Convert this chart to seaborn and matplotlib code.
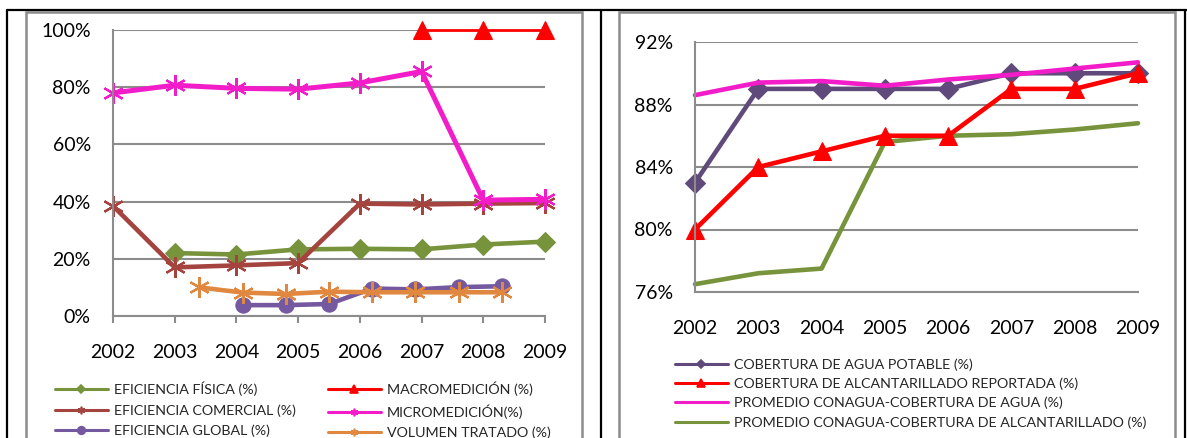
import matplotlib
matplotlib.use("Agg")
import matplotlib.pyplot as plt
from matplotlib.lines import Line2D
from matplotlib.patches import Rectangle
from matplotlib.ticker import PercentFormatter
import numpy as np
import pandas as pd
import seaborn as sns

# ---- data ----
years = ["2002", "2003", "2004", "2005", "2006", "2007", "2008", "2009"]

# left chart, primary category axis (one slot per year)
eficiencia_fisica = [np.nan, 22.0, 21.5, 23.3, 23.5, 23.3, 25.0, 26.0]
eficiencia_comercial = [38.5, 17.0, 17.7, 18.5, 39.3, 39.0, 39.3, 39.5]
macromedicion = [np.nan, np.nan, np.nan, np.nan, np.nan, 100.0, 100.0, 100.0]
micromedicion = [78.0, 80.7, 79.6, 79.3, 81.5, 85.5, 40.5, 40.8]

# left chart, secondary category axis (10 slots)
sec_slots = 10
global_slots = [3, 4, 5, 6, 7, 8, 9]
eficiencia_global = [3.8, 3.8, 4.2, 9.6, 9.3, 10.1, 10.4]
volumen_slots = [2, 3, 4, 5, 6, 7, 8, 9]
volumen_tratado = [10.0, 8.2, 7.7, 8.5, 8.3, 8.3, 8.3, 8.3]

# right chart
cob_agua = [83.0, 89.0, 89.0, 89.0, 89.0, 90.0, 90.0, 90.0]
cob_alcantarillado = [80.0, 84.0, 85.0, 86.0, 86.0, 89.0, 89.0, 90.0]
prom_agua = [88.6, 89.4, 89.5, 89.2, 89.6, 89.9, 90.3, 90.7]
prom_alcantarillado = [76.5, 77.2, 77.5, 85.6, 86.0, 86.1, 86.4, 86.8]

left_labels = ["EFICIENCIA FÍSICA (%)", "EFICIENCIA COMERCIAL (%)", "EFICIENCIA GLOBAL (%)",
               "MACROMEDICIÓN (%)", "MICROMEDICIÓN(%)", "VOLUMEN TRATADO (%)"]
right_labels = ["COBERTURA DE AGUA POTABLE (%)", "COBERTURA DE ALCANTARILLADO REPORTADA (%)",
                "PROMEDIO CONAGUA-COBERTURA DE AGUA (%)", "PROMEDIO CONAGUA-COBERTURA DE ALCANTARILLADO (%)"]

GREEN = "#77933C"
BROWN = "#A5433E"
PURPLE_L = "#7459A0"
RED = "#FF0000"
PINK = "#F21CC8"
ORANGE = "#E0883F"
PURPLE_R = "#604A7B"
GRID = "#8C8C8C"
STAR = (6, 2, 0)

W, H = 1187, 438
sns.set_style("white")
plt.rcParams["font.family"] = ["Lato", "DejaVu Sans"]


def box(x0, y0, x1, y1):
    return [x0 / W, 1 - y1 / H, (x1 - x0) / W, (y1 - y0) / H]


def style_axes(ax):
    for s in ["top", "right"]:
        ax.spines[s].set_visible(False)
    for s in ["left", "bottom"]:
        ax.spines[s].set_color(GRID)
        ax.spines[s].set_linewidth(1.5)
    ax.grid(axis="y", color=GRID, linewidth=1.5)
    ax.grid(axis="x", visible=False)
    ax.set_axisbelow(True)
    ax.tick_params(axis="both", direction="out", length=5, width=1.5, color=GRID,
                   labelsize=14, labelcolor="black")
    ax.tick_params(axis="x", pad=15)
    ax.tick_params(axis="y", pad=11)
    ax.set_xlabel("")
    ax.set_ylabel("")


fig = plt.figure(figsize=(W / 100, H / 100), dpi=100)

# ---- left chart ----
pos = list(range(len(years)))
df_left = pd.DataFrame({"pos": pos, "fisica": eficiencia_fisica, "comercial": eficiencia_comercial,
                        "macro": macromedicion, "micro": micromedicion})
ax = fig.add_axes(box(113, 30, 545, 316))
sns.lineplot(data=df_left, x="pos", y="fisica", ax=ax, color=GREEN, lw=3.3,
             marker="D", markersize=10, markeredgecolor=GREEN)
sns.lineplot(data=df_left, x="pos", y="comercial", ax=ax, color=BROWN, lw=3.3,
             marker=STAR, markersize=15, markeredgewidth=1.6, markeredgecolor=BROWN)
sns.lineplot(data=df_left, x="pos", y="macro", ax=ax, color=RED, lw=2,
             marker="^", markersize=13, markeredgecolor=RED)
sns.lineplot(data=df_left, x="pos", y="micro", ax=ax, color=PINK, lw=3.6,
             marker=STAR, markersize=15, markeredgewidth=1.6, markeredgecolor=PINK)
ax.set_xlim(0, len(years) - 1)
ax.set_ylim(0, 100)
ax.set_xticks(pos)
ax.set_xticklabels(years)
ax.set_yticks([0, 20, 40, 60, 80, 100])
ax.yaxis.set_major_formatter(PercentFormatter(decimals=0))
style_axes(ax)

ax2 = ax.twiny()
sns.lineplot(x=global_slots, y=eficiencia_global, ax=ax2, color=PURPLE_L, lw=3.3,
             marker="o", markersize=11, markeredgecolor=PURPLE_L)
sns.lineplot(x=volumen_slots, y=volumen_tratado, ax=ax2, color=ORANGE, lw=3.3,
             marker=STAR, markersize=15, markeredgewidth=1.6, markeredgecolor=ORANGE)
ax2.set_xlim(0, sec_slots)
ax2.set_xticks([])
for s in ax2.spines.values():
    s.set_visible(False)
for ln in ax.lines + ax2.lines:
    ln.set_clip_on(False)

# ---- right chart ----
df_right = pd.DataFrame({"pos": pos, "agua": cob_agua, "alc": cob_alcantarillado,
                         "p_agua": prom_agua, "p_alc": prom_alcantarillado})
bx = fig.add_axes(box(695, 42, 1138, 292))
sns.lineplot(data=df_right, x="pos", y="p_alc", ax=bx, color=GREEN, lw=3.3)
sns.lineplot(data=df_right, x="pos", y="agua", ax=bx, color=PURPLE_R, lw=3.3,
             marker="D", markersize=10, markeredgecolor=PURPLE_R)
sns.lineplot(data=df_right, x="pos", y="alc", ax=bx, color=RED, lw=3.3,
             marker="^", markersize=13, markeredgecolor=RED)
sns.lineplot(data=df_right, x="pos", y="p_agua", ax=bx, color=PINK, lw=3.3)
bx.set_xlim(0, len(years) - 1)
bx.set_ylim(76, 92)
bx.set_xticks(pos)
bx.set_xticklabels(years)
bx.set_yticks([76, 80, 84, 88, 92])
bx.yaxis.set_major_formatter(PercentFormatter(decimals=0))
style_axes(bx)
for ln in bx.lines:
    ln.set_clip_on(False)

# ---- legends ----
def handle(color, marker=None, ms=4.5):
    return Line2D([], [], color=color, lw=2.2, marker=marker, markersize=ms,
                  markeredgecolor=color, markeredgewidth=1.2)

leg_kw = dict(loc="upper left", frameon=False, fontsize=10.3, borderpad=0, borderaxespad=0,
              handlelength=3.7, handletextpad=0.4, labelspacing=0.55)
fig.legend([handle(GREEN, "D"), handle(BROWN, STAR, 5.5), handle(PURPLE_L, "o", 5.5)],
           left_labels[:3], bbox_to_anchor=(55 / W, 1 - 382 / H), **leg_kw)
fig.legend([handle(RED, "^", 5.5), handle(PINK, STAR, 5.5), handle(ORANGE, STAR, 5.5)],
           left_labels[3:], bbox_to_anchor=(328 / W, 1 - 382 / H), **leg_kw)
fig.legend([handle(PURPLE_R, "D"), handle(RED, "^", 5.5), handle(PINK), handle(GREEN)],
           right_labels, bbox_to_anchor=(675 / W, 1 - 358 / H),
           **{**leg_kw, "labelspacing": 0.48})

# ---- frames ----
fig.add_artist(Rectangle((26 / W, -0.05), (582 - 26) / W, 1 - 12 / H + 0.05,
                         transform=fig.transFigure, fill=False, edgecolor=GRID, lw=1.8))
fig.add_artist(Rectangle((619 / W, -0.05), (1175 - 619) / W, 1 - 12 / H + 0.05,
                         transform=fig.transFigure, fill=False, edgecolor=GRID, lw=1.8))
for xs, ys in [((7, W), (10, 10)), ((7, 7), (10, H)), ((601, 601), (10, H)),
               ((1185, 1185), (10, H))]:
    fig.add_artist(Line2D([x / W for x in xs], [1 - y / H for y in ys],
                          transform=fig.transFigure, color="black", lw=1.6))

fig.savefig("out.png", dpi=100)
plt.close(fig)
